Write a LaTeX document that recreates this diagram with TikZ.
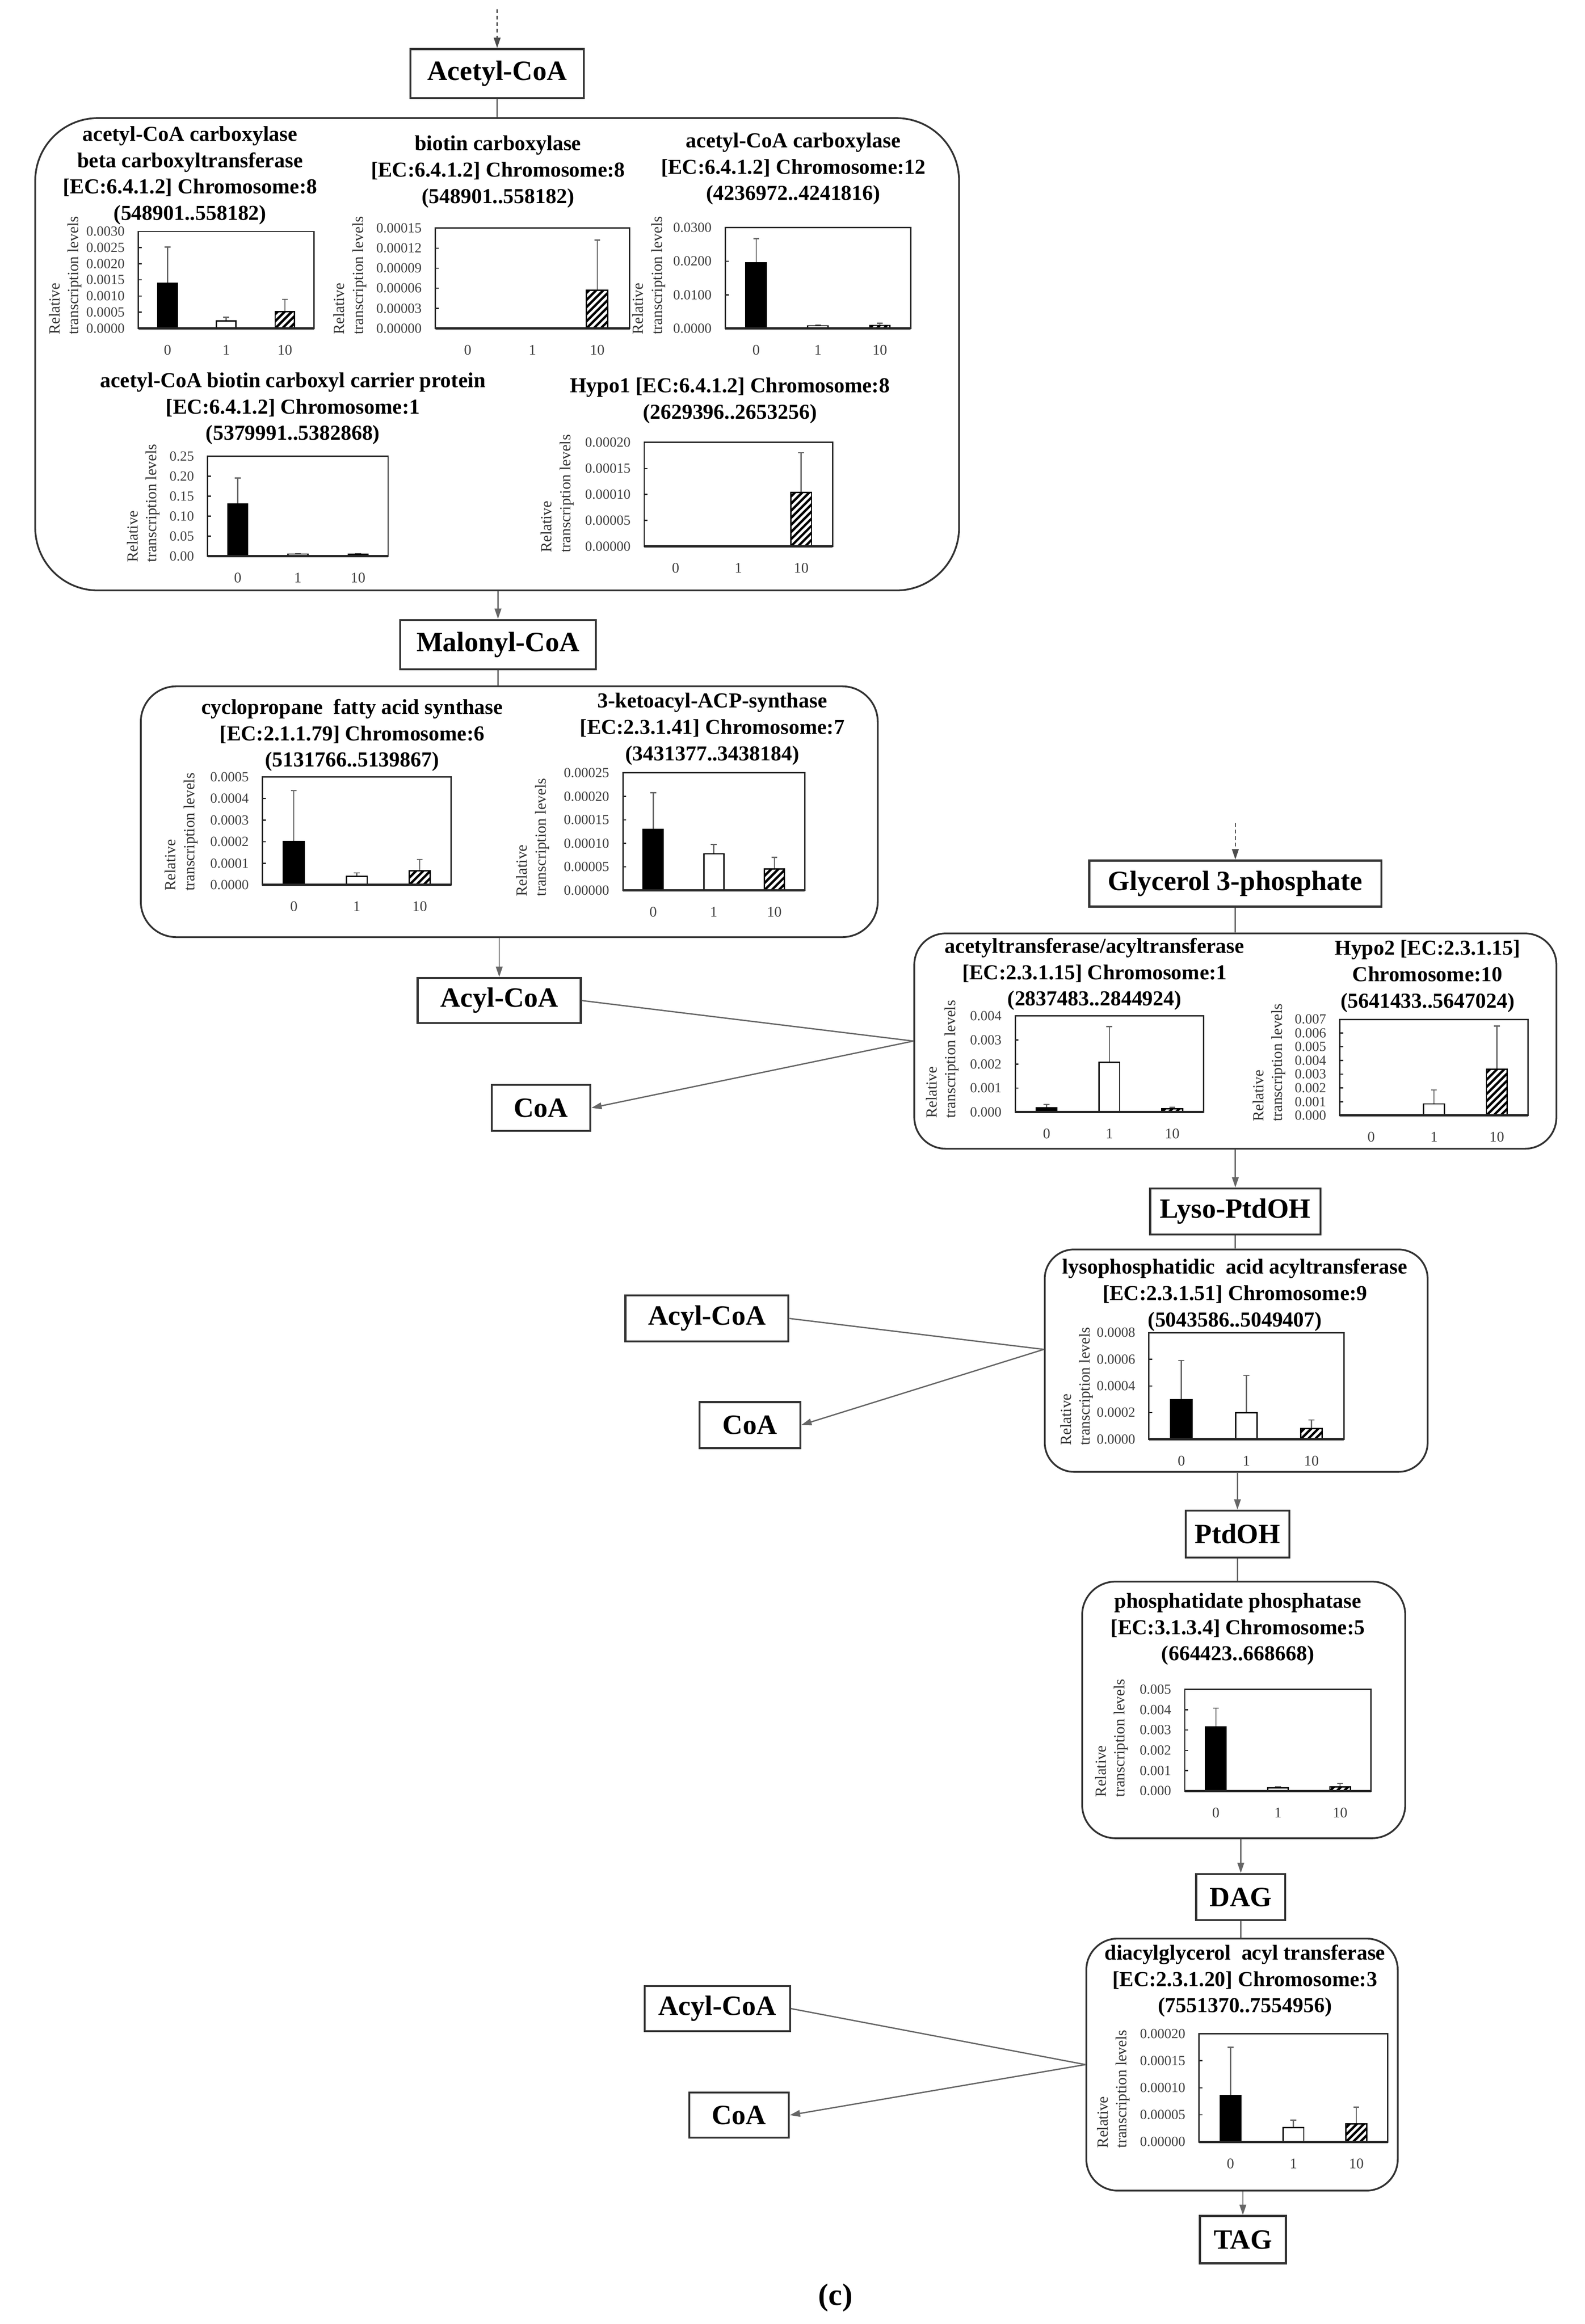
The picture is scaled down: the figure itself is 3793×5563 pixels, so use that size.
\documentclass[tikz,border=0pt]{standalone}
\usepackage{fontspec}
\setmainfont{Liberation Serif}
\usetikzlibrary{arrows.meta,calc}

\tikzset{
  sp/.style={draw=black!80, line width=1.4pt, fill=white, inner sep=0pt, font=\fontsize{19}{22}\selectfont\bfseries},
  grp/.style={draw=black!80, line width=1.2pt, inner sep=0pt},
  ttl/.style={align=center, inner sep=0pt, font=\fontsize{14.5}{17.9}\selectfont\bfseries},
  ticklab/.style={anchor=east, inner sep=0pt, font=\fontsize{9.5}{10}\selectfont, text=black!75},
  xlab/.style={inner sep=0pt, font=\fontsize{10}{11}\selectfont, text=black!75},
  ylab/.style={align=left, inner sep=0pt, font=\fontsize{10.5}{12.8}\selectfont, text=black!80},
  plotframe/.style={draw=black!85, line width=0.9pt},
  axisline/.style={draw=black!85, line width=1.6pt},
  tickmark/.style={draw=black!85, line width=0.8pt},
  errbar/.style={draw=black!60, line width=0.8pt},
  barframe/.style={draw=black, line width=0.9pt},
  hatchline/.style={draw=black, line width=1.6pt},
  conn/.style={draw=black!60, line width=0.9pt},
  arr/.style={conn, -{Triangle[length=7pt,width=4.5pt]}},
  dasharr/.style={draw=black!70, line width=0.8pt, dash pattern=on 2.5pt off 2pt, -{Triangle[length=7pt,width=4.5pt]}},
}

% #1 left, #2 top, #3 width, #4 height, #5 tick labels (bottom to top), #6 intervals,
% #7 bars f/e/kind, #8 y-label offset, #9 id
\newcommand{\barchart}[9]{%
  \pgfmathsetmacro{\cL}{#1}%
  \pgfmathsetmacro{\cT}{#2}%
  \pgfmathsetmacro{\cW}{#3}%
  \pgfmathsetmacro{\cH}{#4}%
  \pgfmathsetmacro{\cB}{#2+#4}%
  \pgfmathsetmacro{\cR}{#1+#3}%
  \pgfmathsetmacro{\bw}{0.055*#3}%
  \draw[plotframe, fill=white] (\cL,\cT) rectangle (\cR,\cB);
  \foreach \lab [count=\ii from 0] in {#5} {%
    \pgfmathsetmacro{\ty}{\cB-\ii*\cH/#6}%
    \node[ticklab] (#9-t\ii) at (\cL-32,\ty) {\lab};
    \draw[tickmark] (\cL,\ty) -- (\cL+8,\ty);
  }
  \foreach \fv/\ev/\kd [count=\jj from 0] in {#7} {%
    \pgfmathsetmacro{\cx}{\cL+\cW*(1+2*\jj)/6}%
    \ifdim \fv pt>0pt
      \pgfmathsetmacro{\bt}{\cB-\fv*\cH}%
      \pgfmathsetmacro{\et}{\cB-\ev*\cH}%
      \draw[errbar] (\cx,\bt) -- (\cx,\et) (\cx-7,\et) -- (\cx+7,\et);
      \if\kd s\def\bfill{black}\else\def\bfill{white}\fi
      \draw[barframe, fill=\bfill] (\cx-\bw,\cB) rectangle (\cx+\bw,\bt);
      \if\kd h
        \begin{scope}
          \clip (\cx-\bw,\cB) rectangle (\cx+\bw,\bt);
          \foreach \qq in {-20,...,3} {\draw[hatchline] (\cx-\bw+\qq*17,\cB) -- ++(300,-300);}
        \end{scope}
        \draw[barframe] (\cx-\bw,\cB) rectangle (\cx+\bw,\bt);
      \fi
    \fi
  }
  \draw[axisline] (\cL,\cB) -- (\cR,\cB);
  \foreach \xl [count=\jj from 0] in {0,1,10} {%
    \node[xlab] (#9-x\jj) at ({\cL+\cW*(1+2*\jj)/6},\cB+52) {\xl};
  }
  \node[ylab, anchor=south west, rotate=90] (#9-y) at (\cL-#8,\cB+15) {Relative\\transcription levels};
}

\begin{document}
\begin{tikzpicture}[x=0.01cm, y=-0.01cm]
\fill[white] (0,0) rectangle (3793,5563);
\useasboundingbox (0,0) rectangle (3793,5563);

% ---------- group boxes ----------
\node[grp, rounded corners=1.5cm, minimum width=22.10cm, minimum height=11.30cm] (g1) at (1190,848) {};
\node[grp, rounded corners=0.85cm, minimum width=17.63cm, minimum height=6.00cm] (g2) at (1219,1943) {};
\node[grp, rounded corners=0.75cm, minimum width=15.36cm, minimum height=5.15cm] (g3) at (2957,2492) {};
\node[grp, rounded corners=0.7cm, minimum width=9.16cm, minimum height=5.32cm] (g4) at (2959,3257) {};
\node[grp, rounded corners=0.8cm, minimum width=7.73cm, minimum height=6.14cm] (g5) at (2977,4093) {};
\node[grp, rounded corners=0.75cm, minimum width=7.45cm, minimum height=6.03cm] (g6) at (2973,4942) {};

% ---------- compound boxes ----------
\node[sp, minimum width=4.15cm, minimum height=1.17cm] (acetyl) at (1190,176) {Acetyl-CoA};
\node[sp, minimum width=4.68cm, minimum height=1.18cm] (malonyl) at (1192,1543) {Malonyl-CoA};
\node[sp, minimum width=3.90cm, minimum height=1.08cm] (acyl1) at (1195,2395) {Acyl-CoA};
\node[sp, minimum width=2.36cm, minimum height=1.10cm] (coa1) at (1295,2652) {CoA};
\node[sp, minimum width=6.99cm, minimum height=1.10cm] (glyc) at (2957,2115) {Glycerol 3-phosphate};
\node[sp, minimum width=4.08cm, minimum height=1.10cm] (lyso) at (2957,2900) {Lyso-PtdOH};
\node[sp, minimum width=3.90cm, minimum height=1.10cm] (acyl2) at (1692,3156) {Acyl-CoA};
\node[sp, minimum width=2.41cm, minimum height=1.10cm] (coa2) at (1795,3411) {CoA};
\node[sp, minimum width=2.48cm, minimum height=1.12cm] (ptdoh) at (2962,3672) {PtdOH};
\node[sp, minimum width=2.13cm, minimum height=1.10cm] (dag) at (2970,4541) {DAG};
\node[sp, minimum width=3.48cm, minimum height=1.08cm] (acyl3) at (1717,4808) {Acyl-CoA};
\node[sp, minimum width=2.38cm, minimum height=1.08cm] (coa3) at (1769,5063) {CoA};
\node[sp, minimum width=2.06cm, minimum height=1.13cm] (tag) at (2975,5361) {TAG};

% ---------- titles ----------
\node[ttl] (t1) at (455,420) {acetyl-CoA carboxylase\\beta carboxyltransferase\\{[EC:6.4.1.2]} Chromosome:8\\(548901..558182)};
\node[ttl] (t2) at (1192,411) {biotin carboxylase\\{[EC:6.4.1.2]} Chromosome:8\\(548901..558182)};
\node[ttl] (t3) at (1899,404) {acetyl-CoA carboxylase\\{[EC:6.4.1.2]} Chromosome:12\\(4236972..4241816)};
\node[ttl] (t4) at (701,978) {acetyl-CoA biotin carboxyl carrier protein\\{[EC:6.4.1.2]} Chromosome:1\\(5379991..5382868)};
\node[ttl] (t5) at (1747,959) {Hypo1 [EC:6.4.1.2] Chromosome:8\\(2629396..2653256)};
\node[ttl] (t6) at (843,1760) {cyclopropane\ \ fatty acid synthase\\{[EC:2.1.1.79]} Chromosome:6\\(5131766..5139867)};
\node[ttl] (t7) at (1705,1745) {3-ketoacyl-ACP-synthase\\{[EC:2.3.1.41]} Chromosome:7\\(3431377..3438184)};
\node[ttl] (t8) at (2620,2332) {acetyltransferase/acyltransferase\\{[EC:2.3.1.15]} Chromosome:1\\(2837483..2844924)};
\node[ttl] (t9) at (3417,2337) {Hypo2 [EC:2.3.1.15]\\Chromosome:10\\(5641433..5647024)};
\node[ttl] (t10) at (2956,3100) {lysophosphatidic\ \ acid acyltransferase\\{[EC:2.3.1.51]} Chromosome:9\\(5043586..5049407)};
\node[ttl] (t11) at (2963,3900) {phosphatidate phosphatase\\{[EC:3.1.3.4]} Chromosome:5\\(664423..668668)};
\node[ttl] (t12) at (2980,4742) {diacylglycerol\ \ acyl transferase\\{[EC:2.3.1.20]} Chromosome:3\\(7551370..7554956)};

% ---------- charts ----------
\barchart{331}{554}{421}{232}{0.0000,0.0005,0.0010,0.0015,0.0020,0.0025,0.0030}{6}{0.466/0.84/s,0.078/0.116/w,0.172/0.30/h}{135}{c1}
\barchart{1042}{546}{465}{240}{0.00000,0.00003,0.00006,0.00009,0.00012,0.00015}{5}{0/0/s,0/0/w,0.38/0.88/h}{164}{c2}
\barchart{1736}{545}{444}{241}{0.0000,0.0100,0.0200,0.0300}{3}{0.65/0.89/s,0.025/0.035/w,0.03/0.05/h}{143}{c3}
\barchart{497}{1092}{432}{239}{0.00,0.05,0.10,0.15,0.20,0.25}{5}{0.52/0.78/s,0.02/0.025/w,0.02/0.025/s}{114}{c4}
\barchart{1542}{1059}{451}{249}{0.00000,0.00005,0.00010,0.00015,0.00020}{4}{0/0/s,0/0/w,0.52/0.90/h}{168}{c5}
\barchart{628}{1860}{452}{258}{0.0000,0.0001,0.0002,0.0003,0.0004,0.0005}{5}{0.40/0.875/s,0.08/0.11/w,0.13/0.235/h}{154}{c6}
\barchart{1491}{1850}{435}{281}{0.00000,0.00005,0.00010,0.00015,0.00020,0.00025}{5}{0.52/0.83/s,0.31/0.39/w,0.18/0.28/h}{176}{c7}
\barchart{2430}{2432}{451}{230}{0.000,0.001,0.002,0.003,0.004}{4}{0.045/0.08/s,0.52/0.89/w,0.035/0.05/h}{134}{c8}
\barchart{3207}{2440}{451}{230}{0.000,0.001,0.002,0.003,0.004,0.005,0.006,0.007}{7}{0/0/s,0.12/0.265/w,0.48/0.93/h}{129}{c9}
\barchart{2750}{3190}{467}{255}{0.0000,0.0002,0.0004,0.0006,0.0008}{4}{0.37/0.74/s,0.25/0.60/w,0.10/0.18/h}{133}{c10}
\barchart{2836}{4044}{446}{243}{0.000,0.001,0.002,0.003,0.004,0.005}{5}{0.63/0.815/s,0.03/0.04/w,0.04/0.075/h}{135}{c11}
\barchart{2870}{4868}{452}{259}{0.00000,0.00005,0.00010,0.00015,0.00020}{4}{0.43/0.875/s,0.13/0.20/w,0.165/0.32/h}{165}{c12}

% ---------- connectors ----------
\coordinate (top1) at (1190,22);
\coordinate (top2) at (2957,1970);
\coordinate (m1) at (g3.west);
\coordinate (m2) at ($(g4.west)+(0,-27)$);
\coordinate (m3) at (g6.west);

\draw[dasharr] (top1) -- (acetyl.north);
\draw[conn] (acetyl.south) -- (acetyl.south |- g1.north);
\draw[arr] (malonyl.north |- g1.south) -- (malonyl.north);
\draw[conn] (malonyl.south) -- (malonyl.south |- g2.north);
\draw[arr] (acyl1.north |- g2.south) -- (acyl1.north);
\draw[conn] (acyl1.east) -- (m1);
\draw[arr] (m1) -- (coa1.east);

\draw[dasharr] (top2) -- (glyc.north);
\draw[conn] (glyc.south) -- (glyc.south |- g3.north);
\draw[arr] (lyso.north |- g3.south) -- (lyso.north);
\draw[conn] (lyso.south) -- (lyso.south |- g4.north);
\draw[conn] (acyl2.east) -- (m2);
\draw[arr] (m2) -- (coa2.east);
\draw[arr] (ptdoh.north |- g4.south) -- (ptdoh.north);
\draw[conn] (ptdoh.south) -- (ptdoh.south |- g5.north);
\draw[arr] (dag.north |- g5.south) -- (dag.north);
\draw[conn] (dag.south) -- (dag.south |- g6.north);
\draw[conn] (acyl3.east) -- (m3);
\draw[arr] (m3) -- (coa3.east);
\draw[arr] (tag.north |- g6.south) -- (tag.north);

% ---------- caption ----------
\node[inner sep=0pt, font=\fontsize{21}{24}\selectfont\bfseries] (cap) at (2000,5500) {(c)};
\end{tikzpicture}
\end{document}
